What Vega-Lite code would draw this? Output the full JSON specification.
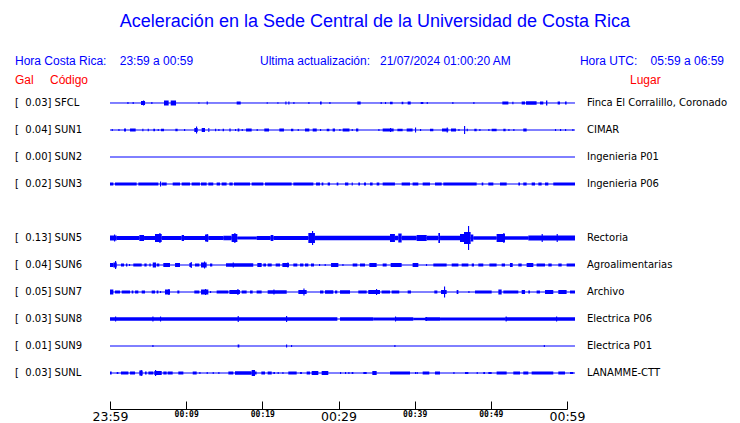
{
"$schema": "https://vega.github.io/schema/vega-lite/v6.json",
"width": 457,
"height": 409,
"autosize": {"type": "none"},
"padding": {"left": 110, "top": 0, "right": 173, "bottom": 14},
"background": "white",
"config": {"view": {"stroke": null}, "text": {"font": "Liberation Sans"}, "scale": {"continuousPadding": 0}},
"datasets": {
"stations": [
{"s":"SFCL","r":0,"label":"[\u00a0\u00a00.03] SFCL","lugar":"Finca El Corralillo, Coronado"},
{"s":"SUN1","r":1,"label":"[\u00a0\u00a00.04] SUN1","lugar":"CIMAR"},
{"s":"SUN2","r":2,"label":"[\u00a0\u00a00.00] SUN2","lugar":"Ingenieria P01"},
{"s":"SUN3","r":3,"label":"[\u00a0\u00a00.02] SUN3","lugar":"Ingenieria P06"},
{"s":"SUN5","r":5,"label":"[\u00a0\u00a00.13] SUN5","lugar":"Rectoria"},
{"s":"SUN6","r":6,"label":"[\u00a0\u00a00.04] SUN6","lugar":"Agroalimentarias"},
{"s":"SUN7","r":7,"label":"[\u00a0\u00a00.05] SUN7","lugar":"Archivo"},
{"s":"SUN8","r":8,"label":"[\u00a0\u00a00.03] SUN8","lugar":"Electrica P06"},
{"s":"SUN9","r":9,"label":"[\u00a0\u00a00.01] SUN9","lugar":"Electrica P01"},
{"s":"SUNL","r":10,"label":"[\u00a0\u00a00.03] SUNL","lugar":"LANAMME-CTT"}
],
"traces": [
{"s":"SFCL","t0":2.28,"t1":2.43,"amp":2},{"s":"SFCL","t0":2.97,"t1":3.12,"amp":2},{"s":"SFCL","t0":4.07,"t1":4.6,"amp":4},{"s":"SFCL","t0":4.33,"t1":4.48,"amp":5},{"s":"SFCL","t0":5.42,"t1":5.57,"amp":2},{"s":"SFCL","t0":7.09,"t1":7.7,"amp":5},{"s":"SFCL","t0":7.97,"t1":8.67,"amp":5},{"s":"SFCL","t0":11.6,"t1":11.75,"amp":1.5},{"s":"SFCL","t0":12.69,"t1":12.84,"amp":3},{"s":"SFCL","t0":16.63,"t1":17.16,"amp":3},{"s":"SFCL","t0":20.57,"t1":20.72,"amp":1.5},{"s":"SFCL","t0":21.97,"t1":22.12,"amp":1.5},{"s":"SFCL","t0":23.02,"t1":23.17,"amp":3},{"s":"SFCL","t0":23.41,"t1":23.56,"amp":3},{"s":"SFCL","t0":24.07,"t1":24.22,"amp":2},{"s":"SFCL","t0":26.04,"t1":26.19,"amp":2},{"s":"SFCL","t0":27.57,"t1":27.79,"amp":3},{"s":"SFCL","t0":28.8,"t1":28.95,"amp":2},{"s":"SFCL","t0":32.47,"t1":32.91,"amp":3},{"s":"SFCL","t0":35.53,"t1":35.68,"amp":2},{"s":"SFCL","t0":36.1,"t1":36.25,"amp":2},{"s":"SFCL","t0":36.76,"t1":37.11,"amp":2.5},{"s":"SFCL","t0":38.29,"t1":38.51,"amp":2.5},{"s":"SFCL","t0":39.08,"t1":39.48,"amp":3},{"s":"SFCL","t0":40.79,"t1":41.14,"amp":2},{"s":"SFCL","t0":41.58,"t1":41.73,"amp":2},{"s":"SFCL","t0":44.94,"t1":45.09,"amp":2},{"s":"SFCL","t0":47.7,"t1":47.85,"amp":2},{"s":"SFCL","t0":51.51,"t1":52.3,"amp":3},{"s":"SFCL","t0":52.82,"t1":52.97,"amp":2.5},{"s":"SFCL","t0":54.05,"t1":54.49,"amp":3},{"s":"SFCL","t0":54.62,"t1":56.01,"amp":3.5},{"s":"SFCL","t0":56.45,"t1":56.89,"amp":3},{"s":"SFCL","t0":57.24,"t1":57.42,"amp":5},{"s":"SFCL","t0":58.77,"t1":59.08,"amp":3},{"s":"SFCL","t0":59.74,"t1":59.95,"amp":3},
{"s":"SUN1","t0":0.22,"t1":0.37,"amp":2},{"s":"SUN1","t0":1.1,"t1":1.25,"amp":2},{"s":"SUN1","t0":1.84,"t1":2.1,"amp":3},{"s":"SUN1","t0":2.63,"t1":3.37,"amp":3},{"s":"SUN1","t0":4.24,"t1":4.39,"amp":2.5},{"s":"SUN1","t0":4.95,"t1":5.1,"amp":2.5},{"s":"SUN1","t0":5.69,"t1":5.91,"amp":2.5},{"s":"SUN1","t0":6.26,"t1":6.41,"amp":2},{"s":"SUN1","t0":6.7,"t1":7.09,"amp":2.5},{"s":"SUN1","t0":8.58,"t1":8.88,"amp":2.5},{"s":"SUN1","t0":9.72,"t1":9.87,"amp":2},{"s":"SUN1","t0":11.07,"t1":11.51,"amp":4},{"s":"SUN1","t0":11.29,"t1":11.44,"amp":7},{"s":"SUN1","t0":12.04,"t1":12.47,"amp":4},{"s":"SUN1","t0":12.91,"t1":13.04,"amp":4},{"s":"SUN1","t0":13.79,"t1":13.94,"amp":2.5},{"s":"SUN1","t0":14.22,"t1":14.37,"amp":2},{"s":"SUN1","t0":14.79,"t1":14.97,"amp":2.5},{"s":"SUN1","t0":15.67,"t1":15.84,"amp":3},{"s":"SUN1","t0":16.41,"t1":16.56,"amp":2},{"s":"SUN1","t0":16.76,"t1":16.98,"amp":3},{"s":"SUN1","t0":17.29,"t1":17.44,"amp":2},{"s":"SUN1","t0":17.86,"t1":18.6,"amp":3},{"s":"SUN1","t0":19.25,"t1":19.4,"amp":2},{"s":"SUN1","t0":20.26,"t1":20.88,"amp":3},{"s":"SUN1","t0":22.23,"t1":22.84,"amp":3},{"s":"SUN1","t0":23.76,"t1":24.07,"amp":2.5},{"s":"SUN1","t0":24.64,"t1":24.79,"amp":2},{"s":"SUN1","t0":25.6,"t1":26.17,"amp":3},{"s":"SUN1","t0":26.61,"t1":27.14,"amp":3},{"s":"SUN1","t0":27.57,"t1":27.72,"amp":2},{"s":"SUN1","t0":28.45,"t1":28.8,"amp":2.5},{"s":"SUN1","t0":29.23,"t1":29.54,"amp":3},{"s":"SUN1","t0":30.11,"t1":30.26,"amp":2},{"s":"SUN1","t0":30.55,"t1":31.44,"amp":3},{"s":"SUN1","t0":31.73,"t1":31.88,"amp":2},{"s":"SUN1","t0":32.3,"t1":32.6,"amp":3},{"s":"SUN1","t0":35.23,"t1":35.38,"amp":2},{"s":"SUN1","t0":35.8,"t1":37.24,"amp":3},{"s":"SUN1","t0":36.76,"t1":36.91,"amp":4},{"s":"SUN1","t0":37.73,"t1":38.42,"amp":2.5},{"s":"SUN1","t0":38.95,"t1":39.73,"amp":3},{"s":"SUN1","t0":40.04,"t1":40.19,"amp":5},{"s":"SUN1","t0":40.7,"t1":40.85,"amp":2},{"s":"SUN1","t0":42.01,"t1":42.45,"amp":2.5},{"s":"SUN1","t0":43.59,"t1":44.42,"amp":3},{"s":"SUN1","t0":44.2,"t1":44.35,"amp":5},{"s":"SUN1","t0":44.77,"t1":45.43,"amp":3},{"s":"SUN1","t0":45.74,"t1":45.89,"amp":2},{"s":"SUN1","t0":46.48,"t1":46.63,"amp":8},{"s":"SUN1","t0":46.83,"t1":46.98,"amp":2.5},{"s":"SUN1","t0":47.83,"t1":48.14,"amp":2.5},{"s":"SUN1","t0":48.49,"t1":48.64,"amp":2},{"s":"SUN1","t0":49.67,"t1":49.82,"amp":2},{"s":"SUN1","t0":50.11,"t1":50.76,"amp":2.5},{"s":"SUN1","t0":51.64,"t1":51.94,"amp":2.5},{"s":"SUN1","t0":52.3,"t1":52.45,"amp":2},{"s":"SUN1","t0":52.95,"t1":53.1,"amp":2},{"s":"SUN1","t0":54.26,"t1":54.7,"amp":3},{"s":"SUN1","t0":58.42,"t1":58.57,"amp":2},{"s":"SUN1","t0":59.08,"t1":59.23,"amp":2},{"s":"SUN1","t0":59.74,"t1":59.89,"amp":2},{"s":"SUN1","t0":60.7,"t1":60.85,"amp":2},
{"s":"SUN3","t0":0,"t1":0.44,"amp":3},{"s":"SUN3","t0":0.66,"t1":3.5,"amp":3},{"s":"SUN3","t0":3.72,"t1":6.35,"amp":3},{"s":"SUN3","t0":6.56,"t1":6.71,"amp":5},{"s":"SUN3","t0":6.79,"t1":7.44,"amp":3},{"s":"SUN3","t0":8.23,"t1":9.19,"amp":3},{"s":"SUN3","t0":9.41,"t1":10.5,"amp":3},{"s":"SUN3","t0":10.72,"t1":11.81,"amp":3},{"s":"SUN3","t0":11.95,"t1":12.69,"amp":3},{"s":"SUN3","t0":12.91,"t1":13.56,"amp":3},{"s":"SUN3","t0":14.0,"t1":14.44,"amp":3},{"s":"SUN3","t0":14.66,"t1":15.31,"amp":3},{"s":"SUN3","t0":15.67,"t1":16.11,"amp":3},{"s":"SUN3","t0":16.28,"t1":18.38,"amp":3},{"s":"SUN3","t0":18.6,"t1":20.13,"amp":3},{"s":"SUN3","t0":20.35,"t1":23.85,"amp":3},{"s":"SUN3","t0":24.07,"t1":26.7,"amp":3},{"s":"SUN3","t0":27.05,"t1":27.57,"amp":3},{"s":"SUN3","t0":27.79,"t1":28.01,"amp":3},{"s":"SUN3","t0":28.58,"t1":28.89,"amp":3},{"s":"SUN3","t0":29.76,"t1":29.98,"amp":3},{"s":"SUN3","t0":30.85,"t1":31.29,"amp":3},{"s":"SUN3","t0":31.73,"t1":31.88,"amp":3},{"s":"SUN3","t0":32.6,"t1":32.82,"amp":3},{"s":"SUN3","t0":33.34,"t1":33.61,"amp":3},{"s":"SUN3","t0":34.14,"t1":34.48,"amp":3},{"s":"SUN3","t0":35.01,"t1":35.36,"amp":3},{"s":"SUN3","t0":35.8,"t1":37.41,"amp":3},{"s":"SUN3","t0":38.29,"t1":39.39,"amp":3},{"s":"SUN3","t0":39.73,"t1":40.48,"amp":3},{"s":"SUN3","t0":41.05,"t1":42.01,"amp":3},{"s":"SUN3","t0":42.67,"t1":43.55,"amp":3},{"s":"SUN3","t0":43.76,"t1":48.14,"amp":3},{"s":"SUN3","t0":48.8,"t1":49.01,"amp":3},{"s":"SUN3","t0":49.67,"t1":50.33,"amp":3},{"s":"SUN3","t0":51.2,"t1":52.08,"amp":3},{"s":"SUN3","t0":53.61,"t1":53.83,"amp":3},{"s":"SUN3","t0":54.26,"t1":54.7,"amp":3},{"s":"SUN3","t0":55.36,"t1":55.8,"amp":3},{"s":"SUN3","t0":56.24,"t1":56.67,"amp":3},{"s":"SUN3","t0":57.11,"t1":57.55,"amp":3},{"s":"SUN3","t0":58.2,"t1":61.05,"amp":3},
{"s":"SUN5","t0":0,"t1":0.88,"amp":5},{"s":"SUN5","t0":0.53,"t1":0.68,"amp":7},{"s":"SUN5","t0":0.88,"t1":3.85,"amp":4},{"s":"SUN5","t0":3.85,"t1":4.47,"amp":6},{"s":"SUN5","t0":4.47,"t1":5.91,"amp":4},{"s":"SUN5","t0":5.91,"t1":6.79,"amp":8},{"s":"SUN5","t0":6.48,"t1":6.63,"amp":10},{"s":"SUN5","t0":6.79,"t1":9.41,"amp":4},{"s":"SUN5","t0":9.41,"t1":9.72,"amp":6},{"s":"SUN5","t0":9.72,"t1":12.47,"amp":4},{"s":"SUN5","t0":12.47,"t1":12.91,"amp":7},{"s":"SUN5","t0":12.69,"t1":12.84,"amp":8},{"s":"SUN5","t0":12.91,"t1":14.88,"amp":4},{"s":"SUN5","t0":14.88,"t1":15.97,"amp":4.5},{"s":"SUN5","t0":15.97,"t1":16.72,"amp":8},{"s":"SUN5","t0":16.32,"t1":16.47,"amp":10},{"s":"SUN5","t0":16.72,"t1":19.25,"amp":3},{"s":"SUN5","t0":19.25,"t1":21.09,"amp":4},{"s":"SUN5","t0":21.09,"t1":21.45,"amp":6},{"s":"SUN5","t0":21.45,"t1":26.04,"amp":4},{"s":"SUN5","t0":26.04,"t1":26.91,"amp":10},{"s":"SUN5","t0":26.52,"t1":26.67,"amp":14},{"s":"SUN5","t0":26.91,"t1":36.76,"amp":4.5},{"s":"SUN5","t0":36.76,"t1":37.41,"amp":8},{"s":"SUN5","t0":37.41,"t1":37.85,"amp":4.5},{"s":"SUN5","t0":37.85,"t1":38.29,"amp":9},{"s":"SUN5","t0":38.29,"t1":40.26,"amp":4.5},{"s":"SUN5","t0":40.26,"t1":41.58,"amp":6},{"s":"SUN5","t0":41.58,"t1":43.11,"amp":4.5},{"s":"SUN5","t0":43.11,"t1":43.33,"amp":10},{"s":"SUN5","t0":43.33,"t1":45.95,"amp":4.5},{"s":"SUN5","t0":45.95,"t1":46.48,"amp":8},{"s":"SUN5","t0":46.48,"t1":47.35,"amp":12},{"s":"SUN5","t0":47.0,"t1":47.15,"amp":24},{"s":"SUN5","t0":47.35,"t1":47.7,"amp":7},{"s":"SUN5","t0":47.7,"t1":50.76,"amp":3.5},{"s":"SUN5","t0":50.76,"t1":51.86,"amp":8},{"s":"SUN5","t0":51.64,"t1":51.79,"amp":10},{"s":"SUN5","t0":51.86,"t1":54.92,"amp":3.5},{"s":"SUN5","t0":54.92,"t1":61.05,"amp":5},{"s":"SUN5","t0":56.67,"t1":56.82,"amp":8},{"s":"SUN5","t0":58.64,"t1":58.79,"amp":8},
{"s":"SUN6","t0":0,"t1":0.44,"amp":4},{"s":"SUN6","t0":0.44,"t1":0.88,"amp":5},{"s":"SUN6","t0":0.66,"t1":0.81,"amp":8},{"s":"SUN6","t0":1.44,"t1":1.84,"amp":3},{"s":"SUN6","t0":2.1,"t1":2.28,"amp":3},{"s":"SUN6","t0":2.49,"t1":2.64,"amp":2},{"s":"SUN6","t0":3.06,"t1":4.16,"amp":3},{"s":"SUN6","t0":4.51,"t1":4.81,"amp":3},{"s":"SUN6","t0":5.17,"t1":5.34,"amp":3},{"s":"SUN6","t0":5.61,"t1":6.04,"amp":5},{"s":"SUN6","t0":6.13,"t1":6.48,"amp":3},{"s":"SUN6","t0":7.0,"t1":7.88,"amp":4},{"s":"SUN6","t0":8.54,"t1":9.19,"amp":4},{"s":"SUN6","t0":10.42,"t1":10.72,"amp":4},{"s":"SUN6","t0":10.59,"t1":10.74,"amp":6},{"s":"SUN6","t0":11.16,"t1":11.73,"amp":3},{"s":"SUN6","t0":11.95,"t1":12.69,"amp":5},{"s":"SUN6","t0":12.34,"t1":12.49,"amp":7},{"s":"SUN6","t0":13.13,"t1":13.43,"amp":3},{"s":"SUN6","t0":15.23,"t1":18.81,"amp":3.5},{"s":"SUN6","t0":16.11,"t1":16.26,"amp":5},{"s":"SUN6","t0":19.34,"t1":19.91,"amp":4},{"s":"SUN6","t0":20.13,"t1":20.48,"amp":3},{"s":"SUN6","t0":20.7,"t1":21.23,"amp":3},{"s":"SUN6","t0":21.75,"t1":22.32,"amp":3},{"s":"SUN6","t0":22.63,"t1":23.5,"amp":4},{"s":"SUN6","t0":23.28,"t1":23.43,"amp":5},{"s":"SUN6","t0":24.07,"t1":24.59,"amp":3},{"s":"SUN6","t0":24.95,"t1":25.39,"amp":3},{"s":"SUN6","t0":25.6,"t1":26.04,"amp":3},{"s":"SUN6","t0":26.39,"t1":26.78,"amp":3},{"s":"SUN6","t0":27.44,"t1":27.59,"amp":2},{"s":"SUN6","t0":28.18,"t1":28.33,"amp":2},{"s":"SUN6","t0":29.02,"t1":29.98,"amp":4},{"s":"SUN6","t0":30.51,"t1":30.66,"amp":2},{"s":"SUN6","t0":31.86,"t1":32.47,"amp":3},{"s":"SUN6","t0":32.82,"t1":33.48,"amp":3},{"s":"SUN6","t0":34.05,"t1":35.01,"amp":4},{"s":"SUN6","t0":35.8,"t1":36.32,"amp":3},{"s":"SUN6","t0":36.85,"t1":38.29,"amp":4},{"s":"SUN6","t0":39.73,"t1":40.48,"amp":4},{"s":"SUN6","t0":41.48,"t1":41.63,"amp":2},{"s":"SUN6","t0":42.45,"t1":44.2,"amp":3},{"s":"SUN6","t0":44.86,"t1":45.74,"amp":3},{"s":"SUN6","t0":46.17,"t1":47.05,"amp":3},{"s":"SUN6","t0":47.49,"t1":47.79,"amp":3},{"s":"SUN6","t0":48.36,"t1":49.01,"amp":3},{"s":"SUN6","t0":49.81,"t1":50.76,"amp":3},{"s":"SUN6","t0":51.42,"t1":51.86,"amp":3},{"s":"SUN6","t0":52.51,"t1":52.87,"amp":4},{"s":"SUN6","t0":53.61,"t1":54.05,"amp":3},{"s":"SUN6","t0":54.7,"t1":55.58,"amp":4},{"s":"SUN6","t0":56.01,"t1":57.11,"amp":3},{"s":"SUN6","t0":57.55,"t1":57.99,"amp":3},{"s":"SUN6","t0":58.86,"t1":59.3,"amp":3},{"s":"SUN6","t0":59.95,"t1":61.05,"amp":3},
{"s":"SUN7","t0":0,"t1":0.44,"amp":5},{"s":"SUN7","t0":0.66,"t1":1.31,"amp":3},{"s":"SUN7","t0":1.54,"t1":2.63,"amp":3},{"s":"SUN7","t0":2.85,"t1":3.06,"amp":3},{"s":"SUN7","t0":3.29,"t1":3.72,"amp":3},{"s":"SUN7","t0":4.16,"t1":4.6,"amp":3},{"s":"SUN7","t0":5.47,"t1":5.91,"amp":3},{"s":"SUN7","t0":6.13,"t1":6.35,"amp":3},{"s":"SUN7","t0":6.56,"t1":6.71,"amp":2},{"s":"SUN7","t0":7.22,"t1":7.88,"amp":5},{"s":"SUN7","t0":7.66,"t1":7.81,"amp":6},{"s":"SUN7","t0":8.84,"t1":9.11,"amp":3},{"s":"SUN7","t0":11.07,"t1":11.73,"amp":3},{"s":"SUN7","t0":11.95,"t1":12.91,"amp":5},{"s":"SUN7","t0":12.47,"t1":12.62,"amp":6},{"s":"SUN7","t0":13.13,"t1":13.28,"amp":2},{"s":"SUN7","t0":14.0,"t1":15.54,"amp":3},{"s":"SUN7","t0":15.67,"t1":17.06,"amp":4},{"s":"SUN7","t0":16.72,"t1":16.87,"amp":6},{"s":"SUN7","t0":17.29,"t1":17.94,"amp":3},{"s":"SUN7","t0":18.38,"t1":18.73,"amp":3},{"s":"SUN7","t0":19.25,"t1":19.91,"amp":3},{"s":"SUN7","t0":20.7,"t1":23.2,"amp":3.5},{"s":"SUN7","t0":21.45,"t1":21.6,"amp":5},{"s":"SUN7","t0":24.73,"t1":25.82,"amp":4},{"s":"SUN7","t0":25.39,"t1":25.54,"amp":7},{"s":"SUN7","t0":27.57,"t1":28.01,"amp":3},{"s":"SUN7","t0":28.23,"t1":29.32,"amp":3.5},{"s":"SUN7","t0":29.54,"t1":29.84,"amp":3},{"s":"SUN7","t0":30.2,"t1":31.51,"amp":3.5},{"s":"SUN7","t0":32.6,"t1":33.7,"amp":3},{"s":"SUN7","t0":33.91,"t1":35.45,"amp":4},{"s":"SUN7","t0":34.92,"t1":35.07,"amp":6},{"s":"SUN7","t0":35.66,"t1":36.76,"amp":3},{"s":"SUN7","t0":36.98,"t1":37.98,"amp":3},{"s":"SUN7","t0":39.08,"t1":39.52,"amp":3},{"s":"SUN7","t0":42.58,"t1":42.98,"amp":3},{"s":"SUN7","t0":43.46,"t1":44.2,"amp":4},{"s":"SUN7","t0":43.85,"t1":44.0,"amp":11},{"s":"SUN7","t0":45.51,"t1":45.74,"amp":4},{"s":"SUN7","t0":47.05,"t1":47.2,"amp":2},{"s":"SUN7","t0":47.92,"t1":50.11,"amp":3},{"s":"SUN7","t0":50.99,"t1":51.42,"amp":5},{"s":"SUN7","t0":51.64,"t1":53.61,"amp":3},{"s":"SUN7","t0":54.05,"t1":54.49,"amp":4},{"s":"SUN7","t0":54.92,"t1":55.14,"amp":3},{"s":"SUN7","t0":56.01,"t1":56.45,"amp":3},{"s":"SUN7","t0":57.11,"t1":58.2,"amp":4},{"s":"SUN7","t0":58.86,"t1":59.95,"amp":4},{"s":"SUN7","t0":60.39,"t1":61.05,"amp":3},
{"s":"SUN8","t0":0,"t1":29.85,"amp":3.5},{"s":"SUN8","t0":30.2,"t1":34.57,"amp":3.5},{"s":"SUN8","t0":34.57,"t1":37.41,"amp":3},{"s":"SUN8","t0":37.41,"t1":39.82,"amp":3.5},{"s":"SUN8","t0":39.82,"t1":41.36,"amp":2.5},{"s":"SUN8","t0":41.36,"t1":43.33,"amp":3.5},{"s":"SUN8","t0":43.33,"t1":51.89,"amp":3},{"s":"SUN8","t0":51.89,"t1":61.05,"amp":3.5},{"s":"SUN8","t0":0.66,"t1":0.81,"amp":5},{"s":"SUN8","t0":5.56,"t1":5.71,"amp":5},{"s":"SUN8","t0":6.56,"t1":6.71,"amp":5},{"s":"SUN8","t0":16.76,"t1":16.91,"amp":6},{"s":"SUN8","t0":23.11,"t1":23.26,"amp":6},{"s":"SUN8","t0":37.41,"t1":37.56,"amp":5},{"s":"SUN8","t0":41.48,"t1":41.63,"amp":4},{"s":"SUN8","t0":51.94,"t1":52.09,"amp":5},{"s":"SUN8","t0":58.56,"t1":58.71,"amp":5},
{"s":"SUN9","t0":5.56,"t1":5.71,"amp":2},{"s":"SUN9","t0":16.76,"t1":16.98,"amp":3},{"s":"SUN9","t0":23.11,"t1":23.26,"amp":3},{"s":"SUN9","t0":23.76,"t1":23.91,"amp":2},{"s":"SUN9","t0":37.33,"t1":37.48,"amp":2},{"s":"SUN9","t0":56.95,"t1":57.1,"amp":2},
{"s":"SUNL","t0":0,"t1":0.22,"amp":3},{"s":"SUNL","t0":0.88,"t1":1.1,"amp":2},{"s":"SUNL","t0":1.44,"t1":2.41,"amp":3},{"s":"SUNL","t0":2.63,"t1":3.29,"amp":3},{"s":"SUNL","t0":3.85,"t1":4.29,"amp":5},{"s":"SUNL","t0":4.03,"t1":4.18,"amp":6},{"s":"SUNL","t0":4.6,"t1":4.81,"amp":3},{"s":"SUNL","t0":5.04,"t1":5.69,"amp":3},{"s":"SUNL","t0":5.82,"t1":6.79,"amp":4},{"s":"SUNL","t0":5.91,"t1":6.06,"amp":6},{"s":"SUNL","t0":7.0,"t1":7.44,"amp":3},{"s":"SUNL","t0":7.57,"t1":8.23,"amp":3},{"s":"SUNL","t0":8.97,"t1":9.63,"amp":3},{"s":"SUNL","t0":10.86,"t1":11.38,"amp":3},{"s":"SUNL","t0":11.73,"t1":11.88,"amp":2},{"s":"SUNL","t0":12.69,"t1":12.84,"amp":2},{"s":"SUNL","t0":13.48,"t1":13.63,"amp":2},{"s":"SUNL","t0":14.22,"t1":14.37,"amp":2},{"s":"SUNL","t0":15.54,"t1":16.19,"amp":3},{"s":"SUNL","t0":16.41,"t1":18.6,"amp":3.5},{"s":"SUNL","t0":18.6,"t1":19.04,"amp":6},{"s":"SUNL","t0":19.04,"t1":19.25,"amp":3},{"s":"SUNL","t0":19.87,"t1":20.35,"amp":3},{"s":"SUNL","t0":20.7,"t1":21.23,"amp":3},{"s":"SUNL","t0":21.45,"t1":21.66,"amp":2},{"s":"SUNL","t0":22.01,"t1":22.16,"amp":2},{"s":"SUNL","t0":22.63,"t1":22.78,"amp":2},{"s":"SUNL","t0":23.41,"t1":24.51,"amp":3},{"s":"SUNL","t0":24.95,"t1":25.2,"amp":2},{"s":"SUNL","t0":25.82,"t1":26.26,"amp":3},{"s":"SUNL","t0":26.48,"t1":27.35,"amp":4},{"s":"SUNL","t0":27.79,"t1":28.66,"amp":4},{"s":"SUNL","t0":30.2,"t1":30.35,"amp":2},{"s":"SUNL","t0":30.85,"t1":31.0,"amp":2},{"s":"SUNL","t0":31.29,"t1":31.44,"amp":2},{"s":"SUNL","t0":31.73,"t1":31.95,"amp":2},{"s":"SUNL","t0":33.26,"t1":33.7,"amp":2},{"s":"SUNL","t0":34.44,"t1":35.01,"amp":4},{"s":"SUNL","t0":36.76,"t1":39.39,"amp":3},{"s":"SUNL","t0":40.04,"t1":40.19,"amp":2},{"s":"SUNL","t0":40.26,"t1":40.41,"amp":2},{"s":"SUNL","t0":41.05,"t1":41.92,"amp":3},{"s":"SUNL","t0":42.67,"t1":43.33,"amp":3},{"s":"SUNL","t0":45.08,"t1":45.23,"amp":2},{"s":"SUNL","t0":46.61,"t1":47.05,"amp":2},{"s":"SUNL","t0":48.14,"t1":48.29,"amp":2},{"s":"SUNL","t0":49.01,"t1":49.24,"amp":2},{"s":"SUNL","t0":49.67,"t1":50.11,"amp":2},{"s":"SUNL","t0":50.76,"t1":52.08,"amp":3},{"s":"SUNL","t0":52.95,"t1":53.83,"amp":3},{"s":"SUNL","t0":54.26,"t1":54.92,"amp":3},{"s":"SUNL","t0":55.36,"t1":58.2,"amp":3},{"s":"SUNL","t0":58.86,"t1":59.74,"amp":3},{"s":"SUNL","t0":60.39,"t1":60.83,"amp":2}
]
},
"layer": [
{
"data": {"name": "stations"},
"mark": {"type": "rule", "color": "#0000ff", "strokeWidth": 1},
"encoding": {
"x": {"datum": 0, "type": "quantitative",
"scale": {"domain": [0, 60], "nice": false, "zero": false, "padding": 0},
"axis": {
"title": null, "grid": false,
"values": [0,5,10,15,20,25,30,35,40,45,50,55,60],
"labelExpr": "datum.value == 0 ? '23:59' : (datum.value % 10 == 0 ? '00:' + (datum.value - 1 < 10 ? '0' : '') + (datum.value - 1) : '')",
"domainColor": "black", "domainWidth": 1, "tickColor": "black", "tickWidth": 1,
"tickSize": -8, "labelPadding": 9.5, "labelBaseline": "top",
"labelColor": "black", "labelOverlap": false, "labelFlush": false, "labelBound": false,
"labelFontSize": {"condition": {"test": "datum.value % 30 == 0", "value": 12.5}, "value": 8},
"labelFont": {"condition": {"test": "datum.value % 30 == 0", "value": "DejaVu Sans"}, "value": "DejaVu Sans Mono"},
"labelFontWeight": {"condition": {"test": "datum.value % 30 == 0", "value": "normal"}, "value": "bold"}
}},
"x2": {"datum": 61.05},
"y": {"field": "r", "type": "quantitative",
"scale": {"domain": [-3.8148, 11.3333], "reverse": true, "nice": false, "zero": false, "padding": 0},
"axis": null}
}
},
{
"data": {"name": "traces"},
"transform": [{"lookup": "s", "from": {"data": {"name": "stations"}, "key": "s", "fields": ["r"]}}],
"mark": {"type": "bar", "color": "#0000ff", "orient": "horizontal"},
"encoding": {
"x": {"field": "t0", "type": "quantitative"},
"x2": {"field": "t1"},
"y": {"field": "r", "type": "quantitative", "axis": null},
"size": {"field": "amp", "type": "quantitative", "scale": {"type": "linear", "domain": [0, 24], "range": [0, 24]}, "legend": null}
}
},
{
"data": {"name": "stations"},
"mark": {"type": "text", "align": "left", "baseline": "middle", "font": "DejaVu Sans", "fontSize": 10, "color": "black"},
"encoding": {
"x": {"datum": -12.47, "type": "quantitative"},
"y": {"field": "r", "type": "quantitative", "axis": null},
"text": {"field": "label"}
}
},
{
"data": {"name": "stations"},
"mark": {"type": "text", "align": "left", "baseline": "middle", "font": "DejaVu Sans", "fontSize": 10, "color": "black"},
"encoding": {
"x": {"datum": 62.62, "type": "quantitative"},
"y": {"field": "r", "type": "quantitative", "axis": null},
"text": {"field": "lugar"}
}
},
{
"data": {"values": [{}]},
"mark": {"type": "text", "align": "center", "baseline": "middle", "fontSize": 18, "color": "#0000ff", "text": "Aceleración en la Sede Central de la Universidad de Costa Rica"},
"encoding": {"x": {"datum": 34.79, "type": "quantitative"}, "y": {"datum": -3.0, "type": "quantitative", "axis": null}}
},
{
"data": {"values": [{}]},
"mark": {"type": "text", "align": "left", "baseline": "middle", "fontSize": 12, "color": "#0000ff", "text": "Hora Costa Rica:\u00a0\u00a0\u00a0\u00a023:59 a 00:59"},
"encoding": {"x": {"datum": -12.47, "type": "quantitative"}, "y": {"datum": -1.556, "type": "quantitative", "axis": null}}
},
{
"data": {"values": [{}]},
"mark": {"type": "text", "align": "left", "baseline": "middle", "fontSize": 12, "color": "#0000ff", "text": "Ultima actualización:\u00a0\u00a0\u00a021/07/2024 01:00:20 AM"},
"encoding": {"x": {"datum": 19.69, "type": "quantitative"}, "y": {"datum": -1.556, "type": "quantitative", "axis": null}}
},
{
"data": {"values": [{}]},
"mark": {"type": "text", "align": "left", "baseline": "middle", "fontSize": 12, "color": "#0000ff", "text": "Hora UTC:\u00a0\u00a0\u00a0\u00a005:59 a 06:59"},
"encoding": {"x": {"datum": 61.7, "type": "quantitative"}, "y": {"datum": -1.556, "type": "quantitative", "axis": null}}
},
{
"data": {"values": [{}]},
"mark": {"type": "text", "align": "left", "baseline": "middle", "fontSize": 12, "color": "#ff0000", "text": "Gal"},
"encoding": {"x": {"datum": -12.47, "type": "quantitative"}, "y": {"datum": -0.852, "type": "quantitative", "axis": null}}
},
{
"data": {"values": [{}]},
"mark": {"type": "text", "align": "left", "baseline": "middle", "fontSize": 12, "color": "#ff0000", "text": "Código"},
"encoding": {"x": {"datum": -7.88, "type": "quantitative"}, "y": {"datum": -0.852, "type": "quantitative", "axis": null}}
},
{
"data": {"values": [{}]},
"mark": {"type": "text", "align": "left", "baseline": "middle", "fontSize": 12, "color": "#ff0000", "text": "Lugar"},
"encoding": {"x": {"datum": 68.27, "type": "quantitative"}, "y": {"datum": -0.852, "type": "quantitative", "axis": null}}
}
]
}
